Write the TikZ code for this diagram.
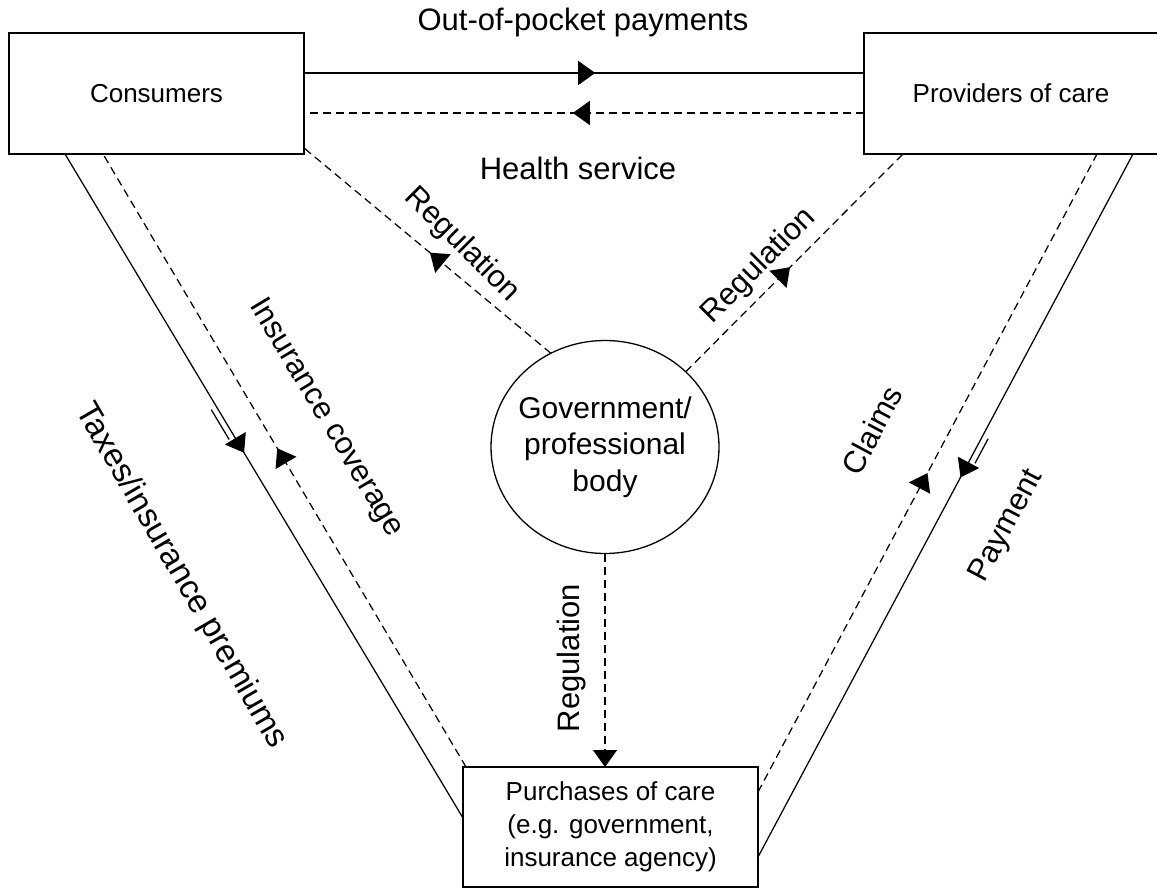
\documentclass[tikz,border=0pt]{standalone}
\usepackage{fontspec}
\setmainfont{Liberation Sans}
\usetikzlibrary{arrows.meta,calc,shapes.geometric,decorations.markings}

\tikzset{
  flowtip/.tip={Triangle[length=17pt,width=24pt]},
  box/.style={draw, line width=1.3pt, minimum width=295pt, minimum height=121pt,
    inner sep=0pt, outer sep=0pt, align=center, font=\fontsize{26}{33}\selectfont},
  flow/.style={line width=1.25pt},
  dash flow/.style={line width=1.25pt, dash pattern=on 8pt off 5pt},
  midarrow/.style={postaction={decorate},
    decoration={markings, mark=at position #1 with {\arrow{flowtip}}}},
  lbl/.style={font=\fontsize{31}{37}\selectfont, inner sep=0pt},
}

\begin{document}
\begin{tikzpicture}[x=1pt,y=-1pt]
\useasboundingbox (0,0) rectangle (1157,888);

% the three parties and the regulator
\node[box] (cons) at (156.5,93.5) {Consumers};
\node[box, minimum width=294pt] (prov) at (1011,93.5) {Providers of care};
\node[box, minimum height=120pt] (purch) at (610.5,827)
  {Purchases of care\\(e.g. government,\\insurance agency)};
\node[ellipse, draw, line width=1.3pt, minimum width=228pt, minimum height=213pt,
  inner sep=0pt, outer sep=0pt] (gov) at (605,447) {};
\node[font=\fontsize{30}{36.5}\selectfont, align=center] (govtxt) at (gov.center)
  {Government/\\professional\\body};

% end points of the flows on the box edges
\coordinate (a1) at ($(cons.north east)+(0,40)$);
\coordinate (a2) at ($(prov.north west)+(0,40)$);
\coordinate (b1) at ($(prov.north west)+(0,80)$);
\coordinate (b2) at ($(cons.north east)+(0,80)$);
\coordinate (l1) at ($(cons.south west)+(56,0)$);
\coordinate (l2) at ($(purch.north west)+(0,51)$);
\coordinate (d1) at ($(purch.north west)+(3,0)$);
\coordinate (d2) at ($(cons.south west)+(94,0)$);
\coordinate (e1) at ($(purch.north east)+(0,25)$);
\coordinate (e2) at ($(prov.south west)+(233,0)$);
\coordinate (r1) at ($(prov.south west)+(269,0)$);
\coordinate (r2) at ($(purch.north east)+(0,90)$);

% consumers <-> providers
\draw[flow, midarrow=0.52] (a1) -- (a2);
\draw[dash flow, midarrow=0.52] (b1) -- (b2);

% consumers <-> purchasers
\draw[flow, midarrow=0.45] (l1) -- (l2);
\draw[flow] ($(l1)!0.385!(l2)+(-7,0)$) -- ($(l1)!0.43!(l2)+(-7,0)$);
\draw[dash flow, midarrow=0.52] (d1) -- (d2);

% purchasers <-> providers
\draw[dash flow, midarrow=0.5] (e1) -- (e2);
\draw[flow, midarrow=0.46] (r1) -- (r2);
\draw[flow] ($(r1)!0.405!(r2)+(7,0)$) -- ($(r1)!0.44!(r2)+(7,0)$);

% regulation
\draw[dash flow, midarrow=0.49] (gov.120) -- ($(cons.south east)+(0,-6)$);
\draw[dash flow, midarrow=0.48] (gov.43) -- ($(prov.south west)+(39,0)$);
\draw[dash flow, -{flowtip}] (gov.south) -- (gov.south |- purch.north);

% flow labels
\node[lbl] (oop) at (583,22) {Out-of-pocket payments};
\node[lbl] (hs) at (578,168) {Health service};
\node[lbl, rotate=-45] (regl) at (462,245) {Regulation};
\node[lbl, rotate=45] (regr) at (759,266) {Regulation};
\node[lbl, rotate=90] (regb) at (571,658) {Regulation};
\node[lbl, rotate=-59] (ins) at (326,418) {Insurance coverage};
\node[lbl, rotate=-60, font=\fontsize{33}{39}\selectfont] (tax) at (181,576)
  {Taxes/insurance premiums};
\node[lbl, rotate=62] (clm) at (872,430) {Claims};
\node[lbl, rotate=62] (pay) at (1007,526) {Payment};
\end{tikzpicture}
\end{document}
